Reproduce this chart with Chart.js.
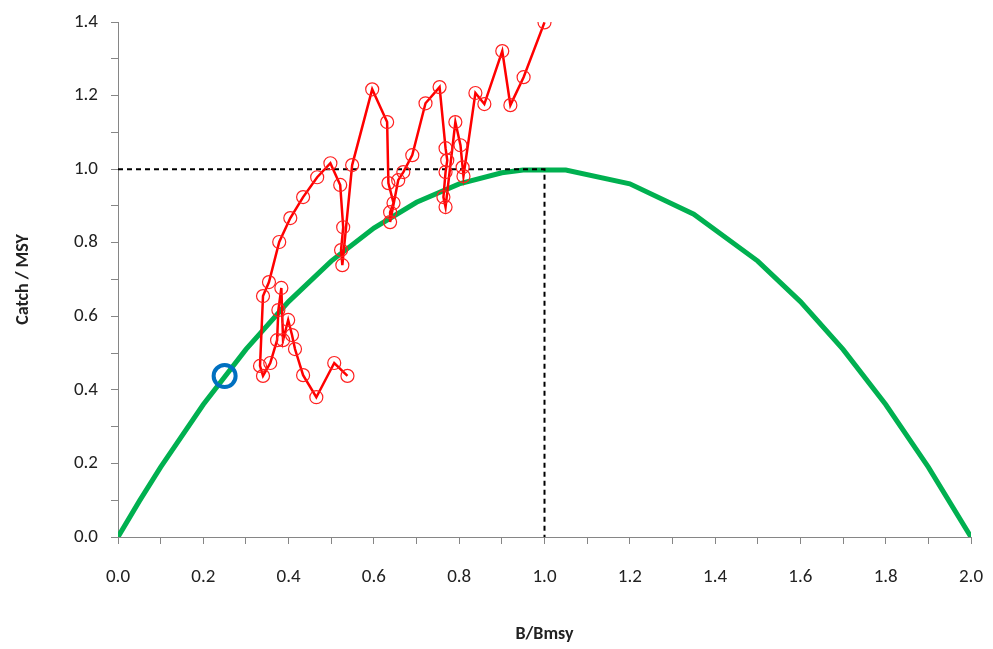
<!DOCTYPE html>
<html>
<head>
<meta charset="utf-8">
<script src="https://cdn.jsdelivr.net/npm/chart.js@4/dist/chart.umd.min.js"></script>
<style>
  html, body { margin: 0; padding: 0; background: #fff; overflow: hidden; }
  canvas { display: block; }
</style>
</head>
<body>
<canvas id="kobe" width="993" height="649"></canvas>
<script>
// catch trajectory (B/Bmsy, Catch/MSY)
const trajB = [0.538, 0.507, 0.465, 0.434, 0.415, 0.408, 0.399, 0.387, 0.383, 0.376,
    0.373, 0.357, 0.340, 0.333, 0.340, 0.354, 0.378, 0.404, 0.434, 0.467,
    0.498, 0.521, 0.528, 0.523, 0.526, 0.549, 0.596, 0.631, 0.634, 0.646,
    0.638, 0.638, 0.657, 0.669, 0.690, 0.721, 0.754, 0.768, 0.772, 0.768,
    0.763, 0.768, 0.791, 0.803, 0.808, 0.810, 0.838, 0.859, 0.901, 0.920,
    0.951, 1.000]
const trajC = [0.438, 0.473, 0.380, 0.440, 0.511, 0.549, 0.590, 0.535, 0.677, 0.617,
    0.535, 0.473, 0.438, 0.465, 0.655, 0.693, 0.802, 0.867, 0.924, 0.978,
    1.016, 0.957, 0.842, 0.780, 0.739, 1.011, 1.217, 1.128, 0.962, 0.908,
    0.883, 0.856, 0.970, 0.992, 1.038, 1.179, 1.223, 1.057, 1.024, 0.992,
    0.924, 0.897, 1.128, 1.065, 1.005, 0.981, 1.207, 1.177, 1.321, 1.174,
    1.250, 1.399]

// production curve
const curveB = [0, 0.05, 0.1, 0.2, 0.3, 0.4, 0.5, 0.6, 0.7, 0.8, 0.9, 0.95,
    1.05, 1.2, 1.35, 1.5, 1.6, 1.7, 1.8, 1.9, 2.0]
const curveC = [0, 0.0975, 0.19, 0.36, 0.51, 0.64, 0.75, 0.84, 0.91, 0.96, 0.99, 0.9975,
    0.9975, 0.96, 0.8775, 0.75, 0.64, 0.51, 0.36, 0.19, 0]

// MSY reference lines
const refB = [0, 1, 1]
const refC = [1, 1, 0]

// highlighted point
const markB = [0.25]
const markC = [0.4375]

const xTicks = ['0.0', '0.2', '0.4', '0.6', '0.8', '1.0', '1.2', '1.4', '1.6', '1.8', '2.0']
const yTicks = ['0.0', '0.2', '0.4', '0.6', '0.8', '1.0', '1.2', '1.4']

const pairs = (xs, ys) => xs.map((x, i) => ({ x, y: ys[i] }))

const FONT = 'Carlito, Lato, "Liberation Sans", sans-serif'
const TXT = '#222'

const evenLabel = labels => v => {
    const s = (Math.round(v * 10) / 10).toFixed(1)
    return labels.includes(s) ? s : ''
}

const data = {
    datasets: [
        {
            data: pairs(markB, markC),
            borderColor: '#0070C0',
            backgroundColor: 'rgba(0,0,0,0)',
            pointRadius: 11,
            pointBorderWidth: 4,
            showLine: false,
            order: 0
        },
        {
            data: pairs(trajB, trajC),
            borderColor: '#ff0000',
            borderWidth: 2.5,
            backgroundColor: 'rgba(0,0,0,0)',
            pointBorderColor: '#ff2020',
            pointBorderWidth: 1.2,
            pointRadius: 6.5,
            showLine: true,
            order: 1
        },
        {
            data: pairs(refB, refC),
            borderColor: '#000',
            borderWidth: 2,
            borderDash: [5, 4],
            pointRadius: 0,
            showLine: true,
            order: 2
        },
        {
            data: pairs(curveB, curveC),
            borderColor: '#00B050',
            borderWidth: 5,
            pointRadius: 0,
            showLine: true,
            order: 3
        }
    ]
}

const options = {
    responsive: false,
    animation: false,
    layout: { padding: { left: 0, right: 22, top: 22, bottom: 0 } },
    plugins: {
        legend: { display: false },
        tooltip: { enabled: false }
    },
    scales: {
        x: {
            type: 'linear',
            min: 0,
            max: 2,
            afterFit: s => { s.height = 112; s.paddingRight = 0; s.paddingLeft = 0 },
            border: { color: '#868686', width: 1 },
            grid: { drawOnChartArea: false, drawTicks: true, tickLength: 7, color: '#868686' },
            ticks: {
                stepSize: 0.1,
                autoSkip: false,
                maxRotation: 0,
                padding: 22,
                color: TXT,
                font: { family: FONT, size: 19 },
                callback: evenLabel(xTicks)
            },
            title: {
                display: true,
                text: 'B/Bmsy',
                color: TXT,
                padding: { top: 16 },
                font: { family: FONT, size: 18, weight: 'bold' }
            }
        },
        y: {
            type: 'linear',
            min: 0,
            max: 1.4,
            afterFit: s => { s.width = 118; s.paddingTop = 0; s.paddingBottom = 0 },
            border: { color: '#868686', width: 1 },
            grid: { drawOnChartArea: false, drawTicks: true, tickLength: 7, color: '#868686' },
            ticks: {
                stepSize: 0.1,
                autoSkip: false,
                padding: 13,
                color: TXT,
                font: { family: FONT, size: 19 },
                callback: evenLabel(yTicks)
            },
            title: {
                display: true,
                text: 'Catch / MSY',
                color: TXT,
                padding: { top: 13 },
                font: { family: FONT, size: 18, weight: 'bold' }
            }
        }
    }
}

new Chart('kobe', { type: 'scatter', data, options })
</script>
</body>
</html>
